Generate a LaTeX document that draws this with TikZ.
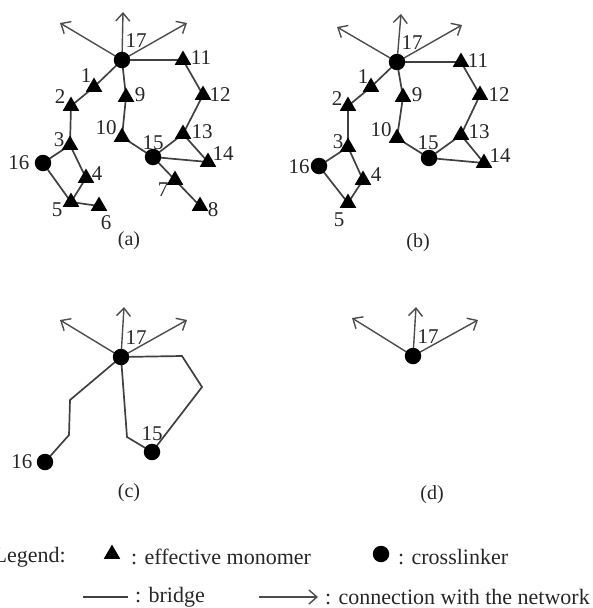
\documentclass[tikz,border=0pt]{standalone}
\usepackage{fontspec}
\setmainfont{Liberation Serif}
\usetikzlibrary{arrows.meta,shapes.geometric,backgrounds}
\begin{document}
\begin{tikzpicture}[x=1pt,y=-1pt,
  bond/.style={draw=black!75, line width=1.7pt},
  conn/.style={draw=black!70, line width=1.4pt, -{Straight Barb[length=8pt,width=14pt,line width=1.4pt]}},
  mono/.style={regular polygon, regular polygon sides=3, fill=black, minimum size=19pt, inner sep=0pt},
  xl/.style={circle, fill=black, minimum size=16.5pt, inner sep=0pt},
  lbl/.style={font=\fontsize{21}{21}\selectfont, inner sep=0pt, text=black!85},
  panelcap/.style={font=\fontsize{20}{20}\selectfont, inner sep=0pt, text=black!85},
  leg/.style={font=\fontsize{22}{22}\selectfont, inner sep=0pt, anchor=west, text=black!85}]
\useasboundingbox (0,0) rectangle (592,608);

% ---------------- panel (a)
\node[xl] (a17) at (122,60) {};
\node[mono] (a11) at (183,60) {};
\node[mono] (a1) at (94,87) {};
\node[mono] (a2) at (71,106) {};
\node[mono] (a9) at (126,97) {};
\node[mono] (a12) at (203,95) {};
\node[mono] (a10) at (122,137) {};
\node[mono] (a13) at (183,134) {};
\node[mono] (a3) at (70,145) {};
\node[xl] (a15) at (153,157) {};
\node[xl] (a16) at (43,163) {};
\node[mono] (a14) at (208,162) {};
\node[mono] (a4) at (86,178) {};
\node[mono] (a7) at (175,180) {};
\node[mono] (a5) at (71,202) {};
\node[mono] (a6) at (99,206) {};
\node[mono] (a8) at (200,206) {};
\coordinate (aup) at (123,12);
\coordinate (aleft) at (60,23);
\coordinate (aright) at (187,23);
\begin{scope}[on background layer]
\draw[bond] (a17.center) -- (a1.center) -- (a2.center) -- (a3.center) -- (a16.center) -- (a5.center) -- (a6.center);
\draw[bond] (a3.center) -- (a4.center) -- (a5.center);
\draw[bond] (a17.center) -- (a9.center) -- (a10.center) -- (a15.center) -- (a13.center) -- (a12.center) -- (a11.center) -- (a17.center);
\draw[bond] (a13.center) -- (a14.center) -- (a15.center) -- (a7.center) -- (a8.center);
\draw[conn] (a17.center) -- (aup);
\draw[conn] (a17.center) -- (aleft);
\draw[conn] (a17.center) -- (aright);
\end{scope}
\node[lbl] (la17) at (136,41) {17};
\node[lbl] (la11) at (201,58) {11};
\node[lbl] (la1) at (86,76) {1};
\node[lbl] (la2) at (60,97) {2};
\node[lbl] (la9) at (140,95) {9};
\node[lbl] (la12) at (220,95) {12};
\node[lbl] (la10) at (106,128) {10};
\node[lbl] (la13) at (202,132) {13};
\node[lbl] (la3) at (59,140) {3};
\node[lbl] (la15) at (153,143) {15};
\node[lbl] (la16) at (19,163) {16};
\node[lbl] (la14) at (223,154) {14};
\node[lbl] (la4) at (97,174) {4};
\node[lbl] (la7) at (163,190) {7};
\node[lbl] (la5) at (57,210) {5};
\node[lbl] (la6) at (106,223) {6};
\node[lbl] (la8) at (213,210) {8};
\node[panelcap] (capa) at (129,241) {(a)};

% ---------------- panel (b)
\node[xl] (b17) at (397,62) {};
\node[mono] (b11) at (461,62) {};
\node[mono] (b1) at (371,87) {};
\node[mono] (b2) at (348,106) {};
\node[mono] (b9) at (403,97) {};
\node[mono] (b12) at (480,95) {};
\node[mono] (b10) at (397,138) {};
\node[mono] (b13) at (461,135) {};
\node[mono] (b3) at (348,147) {};
\node[xl] (b15) at (429,158) {};
\node[xl] (b16) at (319,166) {};
\node[mono] (b14) at (484,163) {};
\node[mono] (b4) at (363,180) {};
\node[mono] (b5) at (348,203) {};
\coordinate (bup) at (401,14);
\coordinate (bleft) at (337,27);
\coordinate (bright) at (462,25);
\begin{scope}[on background layer]
\draw[bond] (b17.center) -- (b1.center) -- (b2.center) -- (b3.center) -- (b16.center) -- (b5.center);
\draw[bond] (b3.center) -- (b4.center) -- (b5.center);
\draw[bond] (b17.center) -- (b9.center) -- (b10.center) -- (b15.center) -- (b13.center) -- (b12.center) -- (b11.center) -- (b17.center);
\draw[bond] (b13.center) -- (b14.center) -- (b15.center);
\draw[conn] (b17.center) -- (bup);
\draw[conn] (b17.center) -- (bleft);
\draw[conn] (b17.center) -- (bright);
\end{scope}
\node[lbl] (lb17) at (412,43) {17};
\node[lbl] (lb11) at (478,61) {11};
\node[lbl] (lb1) at (363,77) {1};
\node[lbl] (lb2) at (337,99) {2};
\node[lbl] (lb9) at (417,95) {9};
\node[lbl] (lb12) at (499,95) {12};
\node[lbl] (lb10) at (381,130) {10};
\node[lbl] (lb13) at (479,132) {13};
\node[lbl] (lb3) at (338,142) {3};
\node[lbl] (lb15) at (428,143) {15};
\node[lbl] (lb16) at (299,167) {16};
\node[lbl] (lb14) at (500,156) {14};
\node[lbl] (lb4) at (376,175) {4};
\node[lbl] (lb5) at (339,220) {5};
\node[panelcap] (capb) at (418,243) {(b)};

% ---------------- panel (c)
\node[xl] (c17) at (121,357) {};
\node[xl] (c15) at (152,452) {};
\node[xl] (c16) at (45,462) {};
\coordinate (cp1) at (70,400);
\coordinate (cp2) at (69,435);
\coordinate (cq1) at (127,437);
\coordinate (cr1) at (182,356);
\coordinate (cr2) at (202,387);
\coordinate (cup) at (124,307);
\coordinate (cleft) at (60,320);
\coordinate (cright) at (187,320);
\begin{scope}[on background layer]
\draw[bond] (c17.center) -- (cp1) -- (cp2) -- (c16.center);
\draw[bond] (c17.center) -- (cq1) -- (c15.center);
\draw[bond] (c17.center) -- (cr1) -- (cr2) -- (c15.center);
\draw[conn] (c17.center) -- (cup);
\draw[conn] (c17.center) -- (cleft);
\draw[conn] (c17.center) -- (cright);
\end{scope}
\node[lbl] (lc17) at (136,338) {17};
\node[lbl] (lc15) at (152,434) {15};
\node[lbl] (lc16) at (22,462) {16};
\node[panelcap] (capc) at (129,493) {(c)};

% ---------------- panel (d)
\node[xl] (d17) at (413,356) {};
\coordinate (dup) at (416,307);
\coordinate (dleft) at (352,318);
\coordinate (dright) at (478,320);
\begin{scope}[on background layer]
\draw[conn] (d17.center) -- (dup);
\draw[conn] (d17.center) -- (dleft);
\draw[conn] (d17.center) -- (dright);
\end{scope}
\node[lbl] (ld17) at (428,337) {17};
\node[panelcap] (capd) at (432,495) {(d)};

% ---------------- legend
\node[leg, anchor=east] (legt) at (66,557) {Legend:};
\node[mono] (legm) at (112,554) {};
\node[leg] (legmt) at (131,557) {: effective monomer};
\node[xl] (legx) at (381,554) {};
\node[leg] (legxt) at (398,557) {: crosslinker};
\coordinate (lb1) at (83,597);
\coordinate (lb2) at (128,597);
\draw[bond, line width=1.4pt] (lb1) -- (lb2);
\node[leg] (legbt) at (135,597) {: bridge};
\coordinate (lc1) at (259,597);
\coordinate (lc2) at (318,597);
\draw[conn] (lc1) -- (lc2);
\node[leg] (legct) at (325,597) {: connection with the network};
\end{tikzpicture}
\end{document}
